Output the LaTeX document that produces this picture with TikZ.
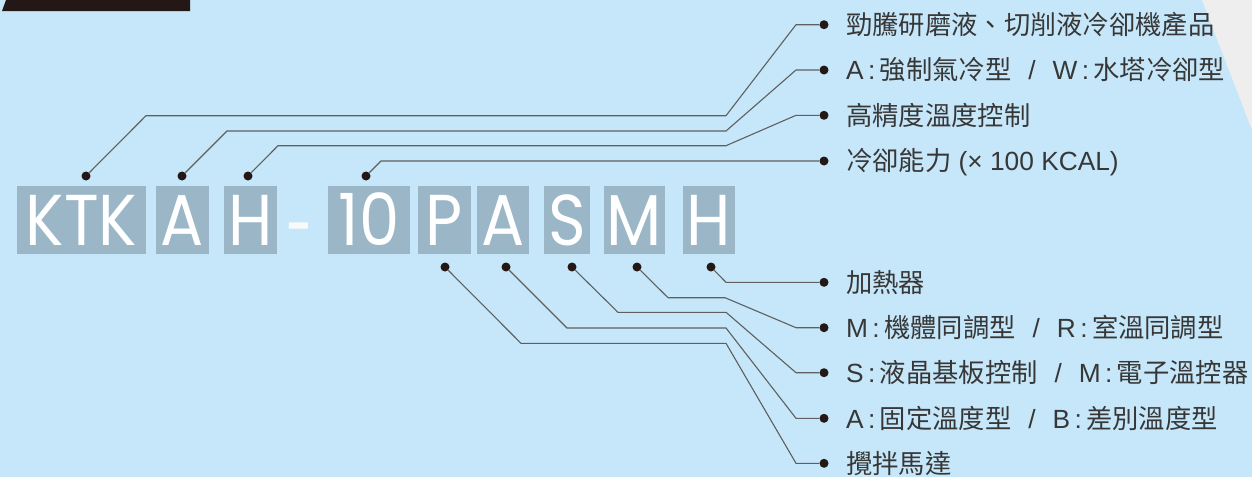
\documentclass[tikz,border=0pt]{standalone}
\usepackage{fontspec}
\setmainfont{Liberation Sans}
\newfontfamily\cjk{Noto Sans CJK TC}
\newfontfamily\latn{Liberation Sans}
\newfontfamily\codefont{Poppins}
\definecolor{bgc}{RGB}{198,231,249}
\definecolor{boxc}{RGB}{155,183,199}
\definecolor{dotc}{RGB}{35,24,21}
\definecolor{linec}{RGB}{95,95,95}
\definecolor{textc}{RGB}{55,55,55}
\definecolor{greyc}{RGB}{238,238,238}
\newcommand\lt[1]{{\latn #1}}
\newcommand\cd[1]{\scalebox{0.89}[1]{#1}}
\newcommand\sep{\hspace{17pt}\lt{/}\hspace{17pt}}
\begin{document}
\begin{tikzpicture}[x=1pt,y=-1pt,
  codebox/.style={fill=boxc, inner sep=0pt, minimum height=68pt, text=white,
    font=\codefont\fontsize{72}{72}\selectfont, text height=50pt, text depth=0pt},
  dot/.style={circle, fill=dotc, inner sep=0pt, minimum size=9pt},
  lead/.style={draw=linec, line width=1.1pt},
  lbl/.style={anchor=west, inner sep=0pt, text=textc,
    font=\cjk\fontsize{26.3}{26.3}\selectfont, text height=23.1pt, text depth=3.2pt}]
\useasboundingbox (0,0) rectangle (1252,477);
\fill[bgc] (0,0) rectangle (1252,477);
\fill[greyc] (1202,0) -- (1252,0) -- (1252,130) -- cycle;
\fill[dotc] (2,11) -- (6,0) -- (190,0) -- (190,11) -- cycle;

% code boxes
\node[codebox, minimum width=129pt] (bK) at (81.5,220) {\cd{KTK}};
\node[codebox, minimum width=53pt] (bA) at (182.5,220) {\cd{A}};
\node[codebox, minimum width=53pt] (bH) at (250.5,220) {\cd{H}};
\node[text=white!92!boxc, inner sep=0pt, anchor=base, font=\codefont\fontsize{64}{64}\selectfont] (dash) at (300,256) {\scalebox{0.75}[1.3]{-}};
\node[codebox, minimum width=82pt] (b10) at (369,220) {\cd{10}};
\node[codebox, minimum width=53pt] (bP) at (444.5,220) {\cd{P}};
\node[codebox, minimum width=52pt] (bA2) at (503,220) {\cd{A}};
\node[codebox, minimum width=46pt] (bS) at (567,220) {\cd{S}};
\node[codebox, minimum width=61pt] (bM) at (634.5,220) {\cd{M}};
\node[codebox, minimum width=52pt] (bH2) at (709,220) {\cd{H}};

% top dots
\node[dot] (t1) at (86,176) {};
\node[dot] (t2) at (182,176) {};
\node[dot] (t3) at (248,176) {};
\node[dot] (t4) at (366,176) {};
% bottom dots
\node[dot] (u1) at (445,267) {};
\node[dot] (u2) at (506,267) {};
\node[dot] (u3) at (572,267) {};
\node[dot] (u4) at (637,267) {};
\node[dot] (u5) at (711,267) {};
% right dots
\node[dot] (r1) at (824,24.7) {};
\node[dot] (r2) at (824,70) {};
\node[dot] (r3) at (824,115.3) {};
\node[dot] (r4) at (824,161) {};
\node[dot] (s1) at (824,282.3) {};
\node[dot] (s2) at (824,327.7) {};
\node[dot] (s3) at (824,372.7) {};
\node[dot] (s4) at (824,418.3) {};
\node[dot] (s5) at (824,463.3) {};

% leads
\draw[lead] (t1) -- (146,115.7) -- (726,115.7) -- (796,24.7) -- (r1);
\draw[lead] (t2) -- (227,131) -- (726,131) -- (796,70) -- (r2);
\draw[lead] (t3) -- (278,145.7) -- (726,145.7) -- (796,115.3) -- (r3);
\draw[lead] (t4) -- (381,161) -- (r4);
\draw[lead] (u5) -- (726,282.3) -- (s1);
\draw[lead] (u4) -- (668,297.7) -- (725,297.7) -- (796,327.7) -- (s2);
\draw[lead] (u3) -- (618,312.3) -- (726,312.3) -- (796,372.7) -- (s3);
\draw[lead] (u2) -- (567,328) -- (726,328) -- (796,418.3) -- (s4);
\draw[lead] (u1) -- (521,343.3) -- (726,343.3) -- (796,463.3) -- (s5);

% labels
\node[lbl] (l1) at (846,24.7) {勁騰研磨液、切削液冷卻機產品};
\node[lbl] (l2) at (846,70) {\lt{A\,:\,}強制氣冷型\sep\lt{W\,:\,}水塔冷卻型};
\node[lbl] (l3) at (846,115.3) {高精度溫度控制};
\node[lbl] (l4) at (846,161) {冷卻能力\lt{ (× 100 KCAL)}};
\node[lbl] (m1) at (846,282.3) {加熱器};
\node[lbl] (m2) at (846,327.7) {\lt{M\,:\,}機體同調型\sep\lt{R\,:\,}室溫同調型};
\node[lbl] (m3) at (846,372.7) {\lt{S\,:\,}液晶基板控制\sep\lt{M\,:\,}電子溫控器};
\node[lbl] (m4) at (846,418.3) {\lt{A\,:\,}固定溫度型\sep\lt{B\,:\,}差別溫度型};
\node[lbl] (m5) at (846,463.3) {攪拌馬達};
\end{tikzpicture}
\end{document}
